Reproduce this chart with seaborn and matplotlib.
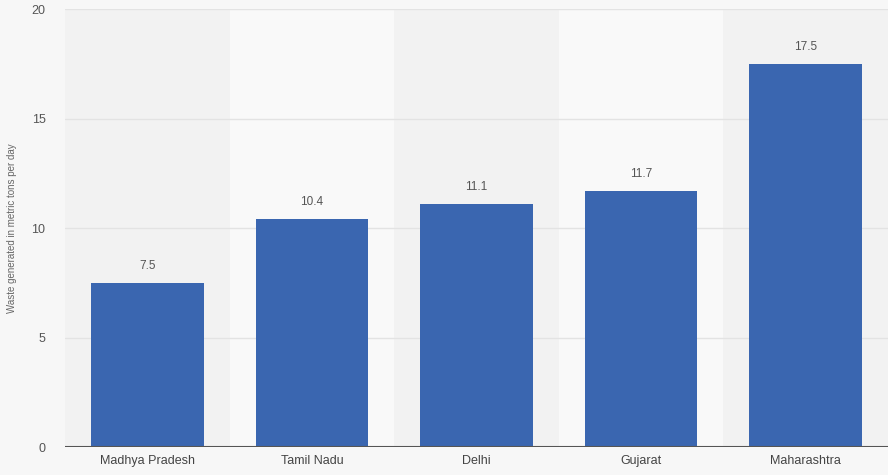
import matplotlib
matplotlib.use("Agg")
import matplotlib.pyplot as plt
import seaborn as sns
import pandas as pd

# data
states = ["Madhya Pradesh", "Tamil Nadu", "Delhi", "Gujarat", "Maharashtra"]
waste = [7.5, 10.4, 11.1, 11.7, 17.5]
y_ticks = [0, 5, 10, 15, 20]

df = pd.DataFrame({"state": states, "waste": waste})

sns.set_theme(style="white")
plt.rcParams["font.family"] = ["Liberation Sans", "DejaVu Sans"]

fig = plt.figure(figsize=(8.88, 4.75), dpi=100, facecolor="#f7f7f7")
ax = fig.add_axes([0.0732, 0.0589, 0.9268, 0.9221])
ax.set_facecolor("#f7f7f7")

# alternating column bands
for i in range(len(states)):
    col = "#f2f2f2" if i % 2 == 0 else "#f9f9f9"
    ax.axvspan(i - 0.5, i + 0.5, color=col, zorder=0, lw=0)

for t in y_ticks[1:]:
    ax.axhline(t, color="#e3e3e3", lw=1, zorder=1)

sns.barplot(data=df, x="state", y="waste", order=states, color="#3a66b0",
            saturation=1, width=0.685, linewidth=0, ax=ax, zorder=2)

for i, v in enumerate(waste):
    ax.text(i, v + 0.5, f"{v:.1f}", ha="center", va="bottom",
            fontsize=8.5, color="#555555")

ax.axhline(0, color="#555555", lw=1.5, zorder=3)
ax.set_xlim(-0.5, len(states) - 0.5)
ax.set_ylim(0, 20)
ax.set_yticks(y_ticks)
ax.tick_params(axis="y", length=0, pad=14, labelsize=9, labelcolor="#555555")
ax.tick_params(axis="x", length=0, pad=6, labelsize=9, labelcolor="#444444")
ax.set_xlabel("")
ax.set_ylabel("Waste generated in metric tons per day", fontsize=7,
              color="#666666")
ax.yaxis.set_label_coords(-0.058, 0.5)
sns.despine(ax=ax, left=True, bottom=True, right=True, top=True)

fig.savefig("out.png", dpi=100, facecolor=fig.get_facecolor())
